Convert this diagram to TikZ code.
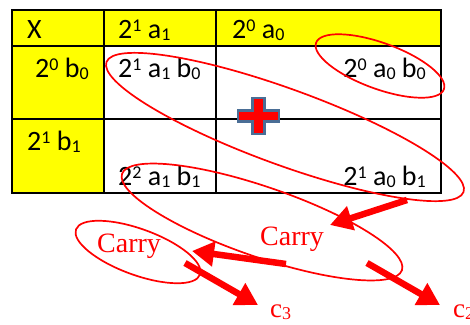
\documentclass[tikz,border=0pt]{standalone}
\usepackage{fontspec}
\setmainfont{Liberation Serif}
\newfontfamily\calib{Carlito}
\usetikzlibrary{arrows.meta}
\definecolor{pred}{RGB}{255,0,0}
\definecolor{yel}{RGB}{255,255,0}
\definecolor{plusborder}{RGB}{74,110,150}
\newcommand{\Up}[1]{\raisebox{7pt}{\fontsize{18}{18}\selectfont #1}}
\newcommand{\Dn}[1]{\raisebox{-2.5pt}{\fontsize{18}{18}\selectfont #1}}
\begin{document}
\begin{tikzpicture}[x=1pt,y=1pt,
  cell/.style={font=\calib\fontsize{28}{28}\selectfont, inner sep=0pt},
  gridline/.style={line width=2pt},
  ell/.style={draw=pred, line width=1.7pt},
  bigarrow/.style={draw=pred, line width=6.5pt, -{Triangle[length=22pt,width=24pt]}},
  redtxt/.style={text=pred, font=\fontsize{28}{28}\selectfont, inner sep=0pt}]
\useasboundingbox (0,0) rectangle (470,-324);
\fill[white] (0,0) rectangle (470,-324);
% yellow cells
\fill[yel] (12,-10) rectangle (441,-46);
\fill[yel] (12,-46) rectangle (104,-193);
% grid
\draw[gridline] (12,-46) -- (441,-46);
\draw[gridline] (12,-119) -- (441,-119);
\draw[gridline] (104,-10) -- (104,-193);
\draw[gridline] (216,-10) -- (216,-193);
\draw[gridline] (12,-10) rectangle (441,-193);
% texts
\node[cell, anchor=base west] (hx) at (27,-38) {X};
\node[cell, anchor=base west] (ha1) at (118,-38) {2\Up{1} a\Dn{1}};
\node[cell, anchor=base west] (ha0) at (232,-38) {2\Up{0} a\Dn{0}};
\node[cell, anchor=base west] (rb0) at (35,-77) {2\Up{0} b\Dn{0}};
\node[cell, anchor=base west] (p10) at (118,-77) {2\Up{1} a\Dn{1} b\Dn{0}};
\node[cell, anchor=base east] (p00) at (426,-77) {2\Up{0} a\Dn{0} b\Dn{0}};
\node[cell, anchor=base west] (rb1) at (27,-150) {2\Up{1} b\Dn{1}};
\node[cell, anchor=base west] (p11) at (118,-185) {2\Up{2} a\Dn{1} b\Dn{1}};
\node[cell, anchor=base east] (p01) at (426,-185) {2\Up{1} a\Dn{0} b\Dn{1}};
% plus sign
\draw[plusborder, fill=pred, line width=2.5pt, line join=miter]
  (252.5,-98) -- (264.5,-98) -- (264.5,-110.5) -- (279,-110.5) -- (279,-121.5)
  -- (264.5,-121.5) -- (264.5,-134) -- (252.5,-134) -- (252.5,-121.5)
  -- (238,-121.5) -- (238,-110.5) -- (252.5,-110.5) -- cycle;
% ellipses
\draw[ell, rotate around={-20:(380,-66)}] (380,-66) ellipse [x radius=68pt, y radius=23pt];
\draw[ell, rotate around={-20:(285,-127)}] (285,-127) ellipse [x radius=190pt, y radius=38pt];
\draw[ell, rotate around={-19:(262,-222)}] (262,-222) ellipse [x radius=148pt, y radius=35pt];
\draw[ell, rotate around={-20:(138,-252)}] (138,-252) ellipse [x radius=66pt, y radius=23pt];
% red texts
\node[redtxt, anchor=base west] (carryL) at (97,-252) {Carry};
\node[redtxt, anchor=base west] (carryR) at (260,-245) {Carry};
\node[redtxt, anchor=base west, font=\fontsize{27}{27}\selectfont] (c3) at (270,-317) {c\Dn{3}};
\node[redtxt, anchor=base west, font=\fontsize{27}{27}\selectfont] (c2) at (453,-317) {c\Dn{2}};
% arrows
\coordinate (a1s) at (407,-200); \coordinate (a1e) at (330,-225);
\coordinate (a2s) at (286,-264); \coordinate (a2e) at (192,-251);
\coordinate (a3s) at (185,-263); \coordinate (a3e) at (258,-305);
\coordinate (a4s) at (367,-263); \coordinate (a4e) at (440,-305);
\draw[bigarrow] (a1s) -- (a1e);
\draw[bigarrow] (a2s) -- (a2e);
\draw[bigarrow] (a3s) -- (a3e);
\draw[bigarrow] (a4s) -- (a4e);
\end{tikzpicture}
\end{document}
